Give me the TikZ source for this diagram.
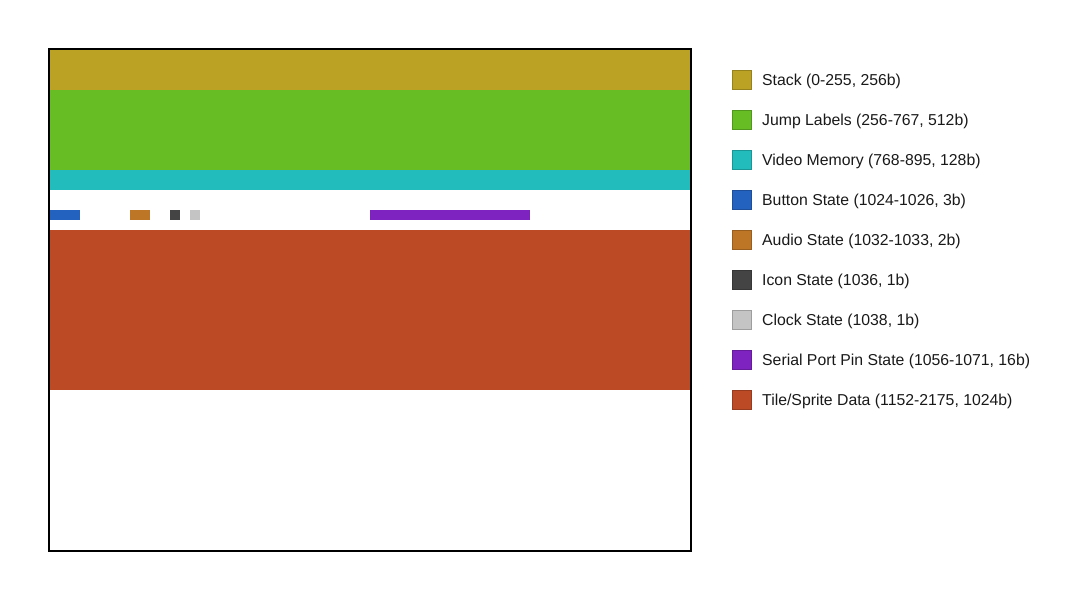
\documentclass[tikz,border=0pt]{standalone}
\usepackage{fontspec}
\setmainfont{Liberation Sans}
\definecolor{cstack}{HTML}{BCA224}
\definecolor{cjump}{HTML}{66BD24}
\definecolor{cvideo}{HTML}{22BCBC}
\definecolor{cbutton}{HTML}{2462C0}
\definecolor{caudio}{HTML}{BD7526}
\definecolor{cicon}{HTML}{444444}
\definecolor{cclock}{HTML}{C4C4C4}
\definecolor{cserial}{HTML}{7E22C0}
\definecolor{ctile}{HTML}{BC4A24}
\begin{document}
\begin{tikzpicture}[x=1pt,y=-1pt,
  region/.style={fill=#1,draw=none},
  swatch/.style={fill=#1,draw=#1!80!black,line width=0.6pt,minimum width=19pt,minimum height=19pt,inner sep=0pt,anchor=center},
  legtext/.style={anchor=west,inner sep=0pt,font=\fontsize{15.8}{18}\selectfont,text=black!90}]
\useasboundingbox (0,0) rectangle (1080,600);
% memory regions (10px cells, 64 per row)
\fill[cstack] (50,50) rectangle (690,90);
\fill[cjump] (50,90) rectangle (690,170);
\fill[cvideo] (50,170) rectangle (690,190);
\fill[cbutton] (50,210) rectangle (80,220);
\fill[caudio] (130,210) rectangle (150,220);
\fill[cicon] (170,210) rectangle (180,220);
\fill[cclock] (190,210) rectangle (200,220);
\fill[cserial] (370,210) rectangle (530,220);
\fill[ctile] (50,230) rectangle (690,390);
\draw[line width=2pt,black] (49,49) rectangle (691,551);
% legend
\foreach \c/\t [count=\i from 0] in {cstack/{Stack (0-255, 256b)},
  cjump/{Jump Labels (256-767, 512b)},
  cvideo/{Video Memory (768-895, 128b)},
  cbutton/{Button State (1024-1026, 3b)},
  caudio/{Audio State (1032-1033, 2b)},
  cicon/{Icon State (1036, 1b)},
  cclock/{Clock State (1038, 1b)},
  cserial/{Serial Port Pin State (1056-1071, 16b)},
  ctile/{Tile/Sprite Data (1152-2175, 1024b)}} {
  \node[swatch=\c] (sw\i) at (742,80+40*\i) {};
  \node[legtext] (lt\i) at (762,81.5+40*\i) {\t};
}
\end{tikzpicture}
\end{document}
